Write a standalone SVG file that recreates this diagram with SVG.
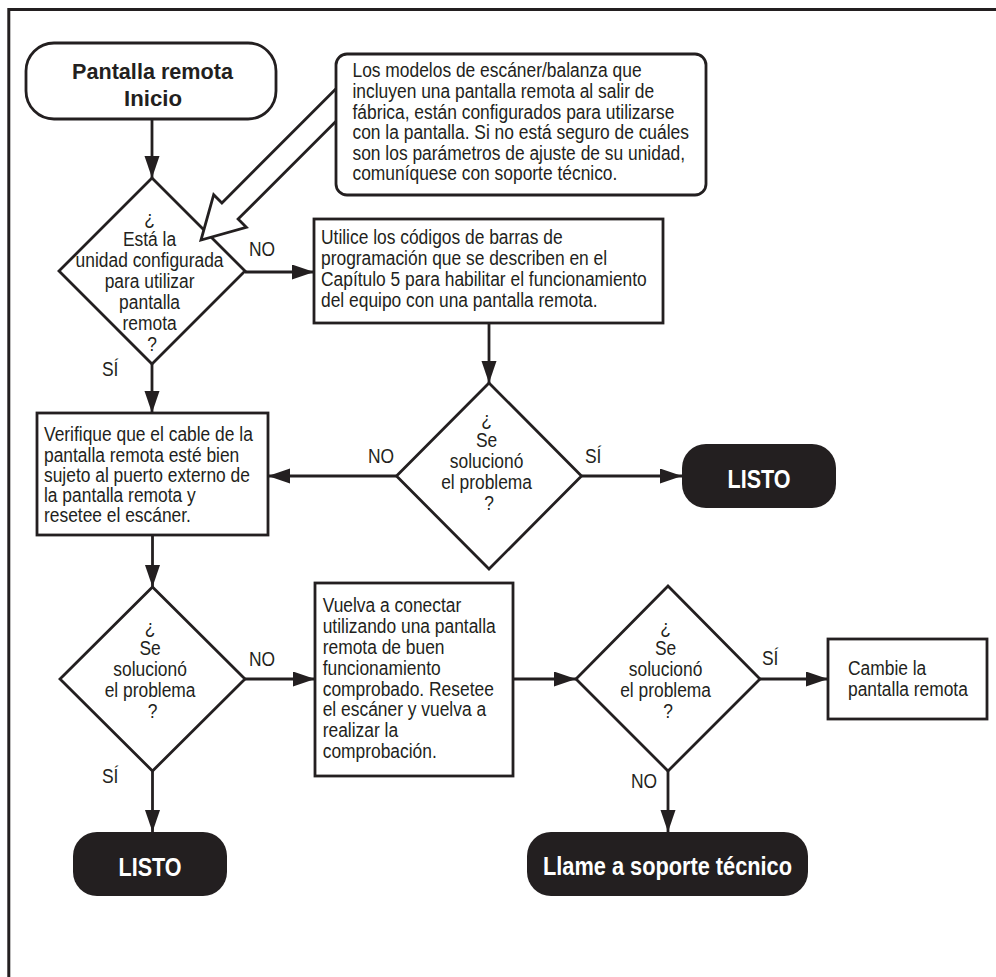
<svg xmlns="http://www.w3.org/2000/svg" width="996" height="977" viewBox="0 0 996 977">
  <defs>
    <marker id="head" markerUnits="userSpaceOnUse" markerWidth="23" markerHeight="16" refX="22" refY="7.5" orient="auto">
      <path d="M0,0 L22,7.5 L0,15 z" fill="#231f20"/>
    </marker>
    <style>
      .frame { fill: none; stroke: #231f20; stroke-width: 3; }
      .box { fill: #fff; stroke: #231f20; stroke-width: 2.8; }
      .term { fill: #231f20; stroke: none; }
      .link { fill: none; stroke: #231f20; stroke-width: 2.8; marker-end: url(#head); }
      .callout { fill: #fff; stroke: #231f20; stroke-width: 2.8; stroke-linejoin: miter; }
      text { font-family: "Liberation Sans", Arial, sans-serif; fill: #231f20; }
      .body { font-size: 20px; }
      .mid { text-anchor: middle; }
      .title { font-size: 22px; font-weight: bold; text-anchor: middle; }
      .end { font-size: 26px; font-weight: bold; text-anchor: middle; fill: #fff; }
    </style>
  </defs>

  <rect width="996" height="977" fill="#fff"/>

  <!-- page frame: top and left edges only -->
  <path class="frame" d="M8.8,977 V9.5 H996"/>

  <!-- connectors -->
  <g id="connectors">
    <path class="link" d="M152,119 V178"/>
    <path class="link" d="M245,272 H314"/>
    <path class="link" d="M152,364 V413"/>
    <path class="link" d="M489,323 V383"/>
    <path class="link" d="M396.5,476 H268"/>
    <path class="link" d="M581.5,476 H682"/>
    <path class="link" d="M152.5,535 V587"/>
    <path class="link" d="M245,679 H315"/>
    <path class="link" d="M152.5,771 V832"/>
    <path class="link" d="M513,679 H576"/>
    <path class="link" d="M760,679 H828"/>
    <path class="link" d="M668,771 V832"/>
  </g>

  <!-- branch labels -->
  <g id="labels" class="body">
    <text transform="translate(249,256) scale(0.87,1)">NO</text>
    <text transform="translate(102,376) scale(0.87,1)">SÍ</text>
    <text transform="translate(368,463) scale(0.87,1)">NO</text>
    <text transform="translate(585,463) scale(0.87,1)">SÍ</text>
    <text transform="translate(249,666) scale(0.87,1)">NO</text>
    <text transform="translate(102,783) scale(0.87,1)">SÍ</text>
    <text transform="translate(762,665) scale(0.87,1)">SÍ</text>
    <text transform="translate(631,788) scale(0.87,1)">NO</text>
  </g>

  <g id="start">
    <rect class="box" x="26" y="43" width="250" height="76" rx="28"/>
    <text class="title" x="152.5" y="79" textLength="161" lengthAdjust="spacingAndGlyphs">Pantalla remota</text>
    <text class="title" x="153" y="106" textLength="58" lengthAdjust="spacingAndGlyphs">Inicio</text>
  </g>

  <g id="check-config">
    <polygon class="box" points="152,178 245,271 152,364 59,271"/>
    <g transform="translate(152,0) scale(0.87,1)">
      <text class="body mid">
        <tspan x="0" y="225">¿</tspan>
        <tspan x="0" y="246">Está la</tspan>
        <tspan x="0" y="267">unidad configurada</tspan>
        <tspan x="0" y="288">para utilizar</tspan>
        <tspan x="0" y="309">pantalla</tspan>
        <tspan x="0" y="330">remota</tspan>
        <tspan x="0" y="351">?</tspan>
      </text>
    </g>
  </g>

  <!-- hollow pointer from the note to the first decision -->
  <g id="note-pointer">
    <polyline class="callout" points="336,88.8 221.9,202.9 213.7,194.7 201,240 246.3,227.3 238.1,219.1 336,121.2"/>
  </g>

  <g id="note">
    <rect class="box" x="336" y="54" width="370" height="141" rx="11"/>
    <g transform="translate(352.5,0) scale(0.87,1)">
      <text class="body">
        <tspan x="0" y="77.5">Los modelos de escáner/balanza que</tspan>
        <tspan x="0" y="98.1">incluyen una pantalla remota al salir de</tspan>
        <tspan x="0" y="118.7">fábrica, están configurados para utilizarse</tspan>
        <tspan x="0" y="139.3">con la pantalla. Si no está seguro de cuáles</tspan>
        <tspan x="0" y="159.9">son los parámetros de ajuste de su unidad,</tspan>
        <tspan x="0" y="180.5">comuníquese con soporte técnico.</tspan>
      </text>
    </g>
  </g>

  <g id="program-codes">
    <rect class="box" x="314" y="219" width="349" height="104"/>
    <g transform="translate(321,0) scale(0.87,1)">
      <text class="body">
        <tspan x="0" y="244.5">Utilice los códigos de barras de</tspan>
        <tspan x="0" y="265.5">programación que se describen en el</tspan>
        <tspan x="0" y="286.5">Capítulo 5 para habilitar el funcionamiento</tspan>
        <tspan x="0" y="307.5">del equipo con una pantalla remota.</tspan>
      </text>
    </g>
  </g>

  <g id="solved-1">
    <polygon class="box" points="489,383 581.5,476 489,569 396.5,476"/>
    <g transform="translate(489,0) scale(0.87,1)">
      <text class="body mid">
        <tspan x="0" y="426">¿</tspan>
        <tspan x="0" y="447">Se</tspan>
        <tspan x="0" y="468">solucionó</tspan>
        <tspan x="0" y="489">el problema</tspan>
        <tspan x="0" y="510">?</tspan>
      </text>
    </g>
  </g>

  <g id="done-1">
    <rect class="term" x="682" y="444" width="154" height="64" rx="24"/>
    <text class="end" x="759" y="488" textLength="63" lengthAdjust="spacingAndGlyphs">LISTO</text>
  </g>

  <g id="check-cable">
    <rect class="box" x="37" y="413" width="231" height="122"/>
    <g transform="translate(44,0) scale(0.87,1)">
      <text class="body">
        <tspan x="0" y="441.5">Verifique que el cable de la</tspan>
        <tspan x="0" y="461.7">pantalla remota esté bien</tspan>
        <tspan x="0" y="481.9">sujeto al puerto externo de</tspan>
        <tspan x="0" y="502.1">la pantalla remota y</tspan>
        <tspan x="0" y="522.3">resetee el escáner.</tspan>
      </text>
    </g>
  </g>

  <g id="solved-2">
    <polygon class="box" points="152.5,587 245,679 152.5,771 60,679"/>
    <g transform="translate(152.5,0) scale(0.87,1)">
      <text class="body mid">
        <tspan x="0" y="634">¿</tspan>
        <tspan x="0" y="655">Se</tspan>
        <tspan x="0" y="676">solucionó</tspan>
        <tspan x="0" y="697">el problema</tspan>
        <tspan x="0" y="718">?</tspan>
      </text>
    </g>
  </g>

  <g id="done-2">
    <rect class="term" x="73" y="832" width="154" height="64" rx="24"/>
    <text class="end" x="150" y="876" textLength="63" lengthAdjust="spacingAndGlyphs">LISTO</text>
  </g>

  <g id="swap-display">
    <rect class="box" x="315" y="583" width="198" height="193"/>
    <g transform="translate(322.7,0) scale(0.87,1)">
      <text class="body">
        <tspan x="0" y="612">Vuelva a conectar</tspan>
        <tspan x="0" y="632.9">utilizando una pantalla</tspan>
        <tspan x="0" y="653.8">remota de buen</tspan>
        <tspan x="0" y="674.7">funcionamiento</tspan>
        <tspan x="0" y="695.6">comprobado. Resetee</tspan>
        <tspan x="0" y="716.5">el escáner y vuelva a</tspan>
        <tspan x="0" y="737.4">realizar la</tspan>
        <tspan x="0" y="758.3">comprobación.</tspan>
      </text>
    </g>
  </g>

  <g id="solved-3">
    <polygon class="box" points="668,586 760,679 668,771 576,679"/>
    <g transform="translate(668,0) scale(0.87,1)">
      <text class="body mid">
        <tspan x="0" y="634">¿</tspan>
        <tspan x="0" y="655">Se</tspan>
        <tspan x="0" y="676">solucionó</tspan>
        <tspan x="0" y="697">el problema</tspan>
        <tspan x="0" y="718">?</tspan>
      </text>
    </g>
  </g>

  <g id="replace-display">
    <rect class="box" x="828" y="639" width="159" height="80"/>
    <g transform="translate(848,0) scale(0.87,1)">
      <text class="body">
        <tspan x="0" y="675">Cambie la</tspan>
        <tspan x="0" y="696.5">pantalla remota</tspan>
      </text>
    </g>
  </g>

  <g id="call-support">
    <rect class="term" x="527" y="832" width="281" height="64" rx="24"/>
    <text class="end" x="667.5" y="875" font-size="25" style="font-size:25px" textLength="249" lengthAdjust="spacingAndGlyphs">Llame a soporte técnico</text>
  </g>
</svg>
